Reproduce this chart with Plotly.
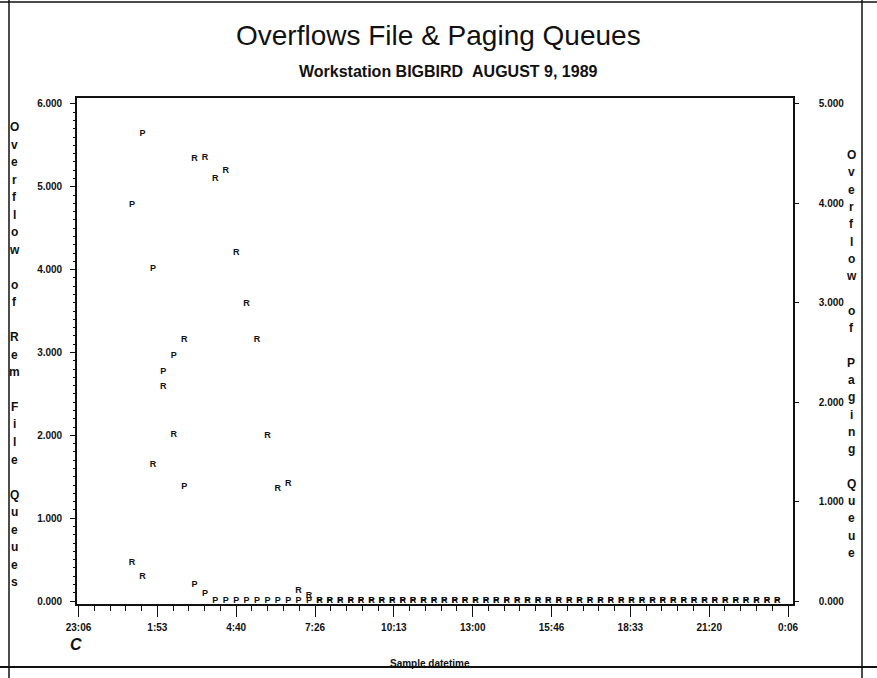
import pandas as pd
import plotly.graph_objects as go

# ---- data -------------------------------------------------------------
# Samples taken every 22 minutes through the day
sample_times = pd.date_range("1989-08-09 01:00", periods=63, freq="22min")

# Overflow of remote file queues (left axis)
rem_file_queue = [
    0.46, 0.29, 1.64, 2.59, 2.01, 3.15, 5.34, 5.35, 5.10, 5.19,
    4.20, 3.59, 3.15, 1.99, 1.35, 1.42, 0.12, 0.06, 0.00, 0.00,
    0.00, 0.00, 0.00, 0.00, 0.00, 0.00, 0.00, 0.00, 0.00, 0.00,
    0.00, 0.00, 0.00, 0.00, 0.00, 0.00, 0.00, 0.00, 0.00, 0.00,
    0.00, 0.00, 0.00, 0.00, 0.00, 0.00, 0.00, 0.00, 0.00, 0.00,
    0.00, 0.00, 0.00, 0.00, 0.00, 0.00, 0.00, 0.00, 0.00, 0.00,
    0.00, 0.00, 0.00,
]

# Overflow of paging queue (right axis)
paging_queue = [
    3.99, 4.70, 3.34, 2.31, 2.47, 1.15, 0.16, 0.07, 0.00, 0.00,
    0.00, 0.00, 0.00, 0.00, 0.00, 0.00, 0.00, 0.00, 0.00, 0.00,
    0.00, 0.00, 0.00, 0.00, 0.00, 0.00, 0.00, 0.00, 0.00, 0.00,
    0.00, 0.00, 0.00, 0.00, 0.00, 0.00, 0.00, 0.00, 0.00, 0.00,
    0.00, 0.00, 0.00, 0.00, 0.00, 0.00, 0.00, 0.00, 0.00, 0.00,
    0.00, 0.00, 0.00, 0.00, 0.00, 0.00, 0.00, 0.00, 0.00, 0.00,
    0.00, 0.00, 0.00,
]

x_tick_times = pd.date_range("1989-08-08 23:06:40", periods=10, freq="10000s")
x_tick_labels = ["23:06", "1:53", "4:40", "7:26", "10:13",
                 "13:00", "15:46", "18:33", "21:20", "0:06"]
left_ticks = [0, 1, 2, 3, 4, 5, 6]
right_ticks = [0, 1, 2, 3, 4, 5]

title_text = "Overflows File & Paging Queues"
subtitle_text = "Workstation BIGBIRD&nbsp;&nbsp;AUGUST 9, 1989"
left_title = "Overflow of Rem File Queues"
right_title = "Overflow of Paging Queue"
x_title = "Sample datetime"

# ---- layout geometry (pixels) ----------------------------------------
FIG_W, FIG_H = 877, 678
PL, PR, PT, PB = 77, 793, 98, 604
PW, PH = PR - PL, PB - PT

def px_x(px):
    return (px - PL) / PW

def px_y(py):
    return (PB - py) / PH

FONT = "Liberation Sans Narrow, Liberation Sans, Arial, sans-serif"
INK = "#111111"

fig = go.Figure()

fig.add_trace(go.Scatter(
    x=sample_times, y=rem_file_queue, mode="text", text=["R"] * len(sample_times),
    textposition="middle center",
    textfont=dict(family="Liberation Sans, Arial", size=9, color=INK, weight="bold"),
    showlegend=False, hoverinfo="skip", cliponaxis=False,
))
fig.add_trace(go.Scatter(
    x=sample_times, y=paging_queue, mode="text", text=["P"] * len(sample_times),
    textposition="middle center", yaxis="y2",
    textfont=dict(family="Liberation Sans, Arial", size=9, color=INK, weight="bold"),
    showlegend=False, hoverinfo="skip", cliponaxis=False,
))

tick_font = dict(family=FONT, size=10, color=INK, weight="bold")

fig.update_layout(
    width=FIG_W, height=FIG_H,
    margin=dict(l=PL, r=FIG_W - PR, t=PT, b=FIG_H - PB, pad=0),
    paper_bgcolor="white", plot_bgcolor="white",
    xaxis=dict(
        type="date",
        range=["1989-08-08 23:03:30", "1989-08-10 00:17:10"],
        tickvals=x_tick_times, ticktext=x_tick_labels,
        ticks="outside", ticklen=11, tickwidth=1.2, tickcolor=INK,
        minor=dict(ticks="outside", ticklen=5, tickcolor=INK,
                   dtick=2000000, tick0="1989-08-08 23:06:40"),
        showline=True, linecolor=INK, linewidth=1.6, mirror=True,
        showgrid=False, zeroline=False, tickfont=tick_font,
        ticklabelstandoff=2,
    ),
    yaxis=dict(
        range=[-0.036, 6.072], tickvals=left_ticks, tickformat=".3f",
        ticks="outside", ticklen=5, tickwidth=1.2, tickcolor=INK,
        minor=dict(ticks="outside", ticklen=2, tickcolor=INK, dtick=0.1),
        showline=True, linecolor=INK, linewidth=1.6,
        showgrid=False, zeroline=False, tickfont=tick_font,
        ticklabelstandoff=6,
    ),
    yaxis2=dict(
        range=[-0.03, 5.06], tickvals=right_ticks, tickformat=".3f",
        overlaying="y", side="right",
        ticks="outside", ticklen=4, tickwidth=1.2, tickcolor=INK,
        showline=True, linecolor=INK, linewidth=1.6,
        showgrid=False, zeroline=False, tickfont=tick_font,
        ticklabelstandoff=18,
    ),
)

annotations = [
    dict(text=title_text, x=px_x(438), y=px_y(35),
         font=dict(family="Liberation Sans, Arial", size=28, color=INK)),
    dict(text=subtitle_text, x=px_x(448), y=px_y(71),
         font=dict(family=FONT, size=16, color=INK, weight="bold")),
    dict(text=x_title, x=px_x(430), y=px_y(663),
         font=dict(family=FONT, size=10, color=INK, weight="bold")),
    dict(text="<i><b>C</b></i>", x=px_x(76), y=px_y(644),
         font=dict(family="Liberation Sans, Arial", size=16, color=INK)),
]

# vertical, letter-by-letter axis titles
for i, ch in enumerate(left_title):
    if ch != " ":
        annotations.append(dict(text=ch, x=px_x(14.5), y=px_y(127 + i * 17.5),
                                font=dict(family=FONT, size=12, color=INK, weight="bold")))
for i, ch in enumerate(right_title):
    if ch != " ":
        annotations.append(dict(text=ch, x=px_x(851), y=px_y(155 + i * 17.3),
                                font=dict(family=FONT, size=12, color=INK, weight="bold")))

for a in annotations:
    a.update(xref="paper", yref="paper", xanchor="center", yanchor="middle",
             showarrow=False)
fig.update_layout(annotations=annotations)

# page border rules
border = dict(color=INK, width=1.5)
fig.update_layout(shapes=[
    dict(type="line", xref="paper", yref="paper",
         x0=px_x(0), x1=px_x(FIG_W), y0=px_y(2), y1=px_y(2), line=border),
    dict(type="line", xref="paper", yref="paper",
         x0=px_x(0), x1=px_x(FIG_W), y0=px_y(667), y1=px_y(667), line=dict(color=INK, width=2)),
    dict(type="line", xref="paper", yref="paper",
         x0=px_x(9), x1=px_x(9), y0=px_y(0), y1=px_y(FIG_H), line=border),
    dict(type="line", xref="paper", yref="paper",
         x0=px_x(862), x1=px_x(862), y0=px_y(0), y1=px_y(FIG_H), line=border),
])

fig.write_html("out.html")
